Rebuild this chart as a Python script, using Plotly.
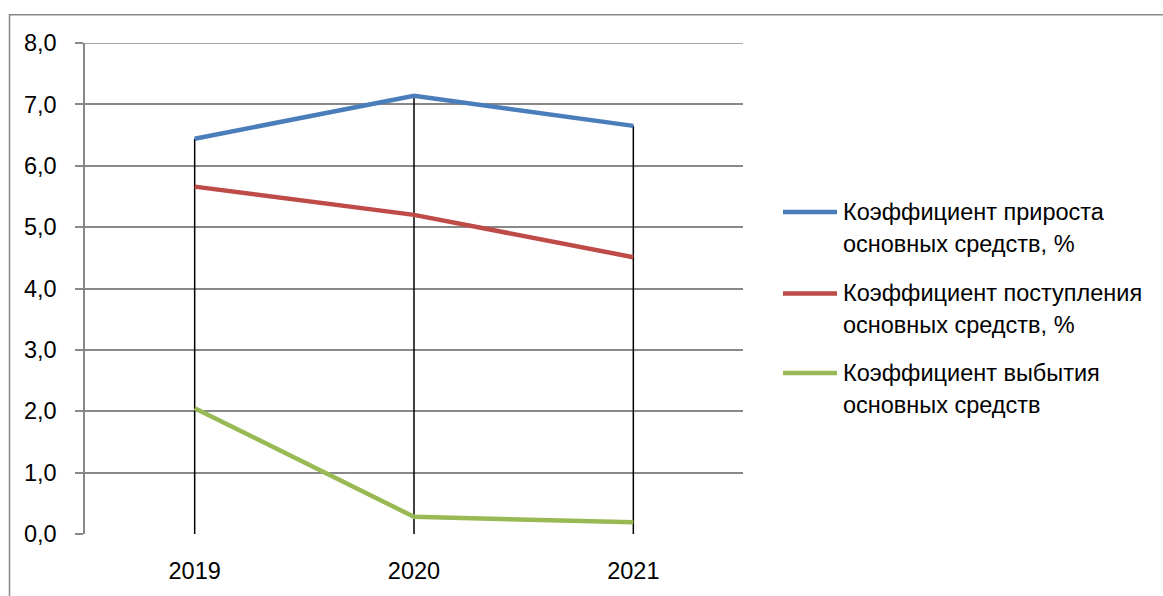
import plotly.graph_objects as go

# Data
years = ["2019", "2020", "2021"]
growth_rate = [6.44, 7.14, 6.65]       # Коэффициент прироста основных средств, %
inflow_rate = [5.66, 5.20, 4.51]       # Коэффициент поступления основных средств, %
retirement_rate = [2.05, 0.28, 0.19]   # Коэффициент выбытия основных средств

series_names = [
    ["Коэффициент прироста", "основных средств, %"],
    ["Коэффициент поступления", "основных средств, %"],
    ["Коэффициент выбытия", "основных средств"],
]
series_values = [growth_rate, inflow_rate, retirement_rate]
series_colors = ["#4A7EBB", "#BE4B48", "#98B954"]

FONT = "Liberation Sans, Arial, sans-serif"
W, H = 1163, 596
L, R, T, B = 85, 743, 43, 537  # plot area in pixels
Y_MAX = 8.0

fig = go.Figure()

# Drop lines from the top of each category down to the axis
drop_x, drop_y = [], []
for i, yr in enumerate(years):
    top = max(v[i] for v in series_values)
    drop_x += [yr, yr, None]
    drop_y += [0, top, None]
fig.add_trace(go.Scatter(x=drop_x, y=drop_y, mode="lines",
                         line=dict(color="#000000", width=1.5),
                         hoverinfo="skip", showlegend=False))

for vals, col, name in zip(series_values, series_colors, series_names):
    fig.add_trace(go.Scatter(x=years, y=vals, mode="lines",
                             name=" ".join(name),
                             line=dict(color=col, width=4.5),
                             showlegend=False))


def px(x):
    return (x - L) / (R - L)


def py(y):
    return (B - y) / (B - T)


shapes = []
annotations = []

# Outer chart border
shapes.append(dict(type="rect", xref="paper", yref="paper",
                   x0=px(9.5), x1=px(1200), y0=py(640), y1=py(14.5),
                   line=dict(color="#888888", width=1.5), layer="below"))

# Top gridline at the axis maximum
shapes.append(dict(type="line", xref="paper", yref="y",
                   x0=px(77), x1=1, y0=Y_MAX, y1=Y_MAX,
                   line=dict(color="#888888", width=1.5), layer="below"))

# Legend drawn with line samples and text
row_y = [213, 295, 375]
for (l1, l2), col, y in zip(series_names, series_colors, row_y):
    shapes.append(dict(type="line", xref="paper", yref="paper",
                       x0=px(783), x1=px(837), y0=py(y), y1=py(y),
                       line=dict(color=col, width=4.5)))
    for k, txt in enumerate([l1, l2]):
        annotations.append(dict(text=txt, xref="paper", yref="paper",
                                x=px(841), y=py(y + 32 * k),
                                xanchor="left", yanchor="middle",
                                showarrow=False,
                                font=dict(family=FONT, size=23.5, color="#000000")))

fig.update_layout(
    width=W, height=H,
    margin=dict(l=L, r=W - R, t=T, b=H - B, pad=0),
    paper_bgcolor="white",
    plot_bgcolor="white",
    separators=", ",
    font=dict(family=FONT, size=23, color="#000000"),
    shapes=shapes,
    annotations=annotations,
    showlegend=False,
)

fig.update_xaxes(
    type="category",
    range=[-0.5, 2.5],
    showgrid=False,
    showline=False,
    ticks="",
    ticklabelstandoff=20,
    tickfont=dict(family=FONT, size=23.5, color="#000000"),
    zeroline=False,
)

fig.update_yaxes(
    range=[0, Y_MAX],
    dtick=1,
    tick0=0,
    tickformat=".1f",
    showgrid=True,
    gridcolor="#888888",
    gridwidth=1.5,
    showline=True,
    linecolor="#888888",
    linewidth=1.5,
    ticks="outside",
    ticklen=8,
    tickcolor="#888888",
    tickwidth=1.5,
    ticklabelstandoff=14,
    tickfont=dict(family=FONT, size=23.5, color="#000000"),
    zeroline=False,
)

fig.write_html("out.html")
